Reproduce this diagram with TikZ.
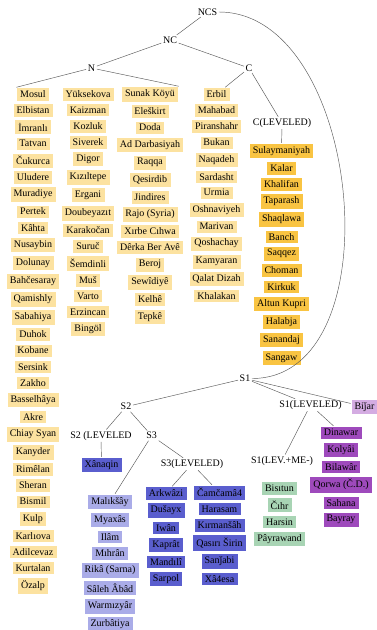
\documentclass[tikz,border=0pt]{standalone}
\usepackage{fontspec}
\setmainfont{Liberation Serif}
\usepackage{tikz}
\usetikzlibrary{positioning}

\definecolor{townpale}{RGB}{252,226,160}
\definecolor{townamber}{RGB}{249,196,66}
\definecolor{townblue}{RGB}{90,94,206}
\definecolor{townlav}{RGB}{170,172,232}
\definecolor{towngreen}{RGB}{168,212,180}
\definecolor{townpurple}{RGB}{158,74,188}
\definecolor{townlilac}{RGB}{212,172,226}

% one column of town boxes, stacked under its first box
\newcommand{\townlist}[5]{%
  \foreach \town [count=\i] in {#5}{
    \ifnum\i=1
      \node[town, fill=#2] (#1\i) at (#3,#4) {\town};
    \else
      \pgfmathtruncatemacro\prev{\i-1}
      \node[town, fill=#2, below=2.05pt of #1\prev] (#1\i) {\town};
    \fi
  }}

\begin{document}
\begin{tikzpicture}[x=1pt,y=1pt,
    font=\fontsize{10}{12}\selectfont,
    town/.style={draw=white, line width=0.6pt, inner xsep=3.6pt, inner ysep=3.2pt},
    group/.style={inner sep=1.5pt},
    link/.style={draw=black!65, line width=0.45pt}]
\useasboundingbox (0,0) rectangle (376,-630);

% upper tree
\node[group] (NCS) at (207.5,-12) {NCS};
\node[group] (NC) at (170,-40) {NC};
\node[group] (N) at (91.5,-68) {N};
\node[group] (C) at (249,-68) {C};
\node[group] (CLev) at (282,-123) {C(LEVELED)};

\townlist{mosul}{townpale}{33}{-94.3}{Mosul,Elbistan,İmranlı,Tatvan,Čukurca,Uludere,Muradiye,Pertek,Kâhta,Nusaybin,Dolunay,Bahčesaray,Qamishly,Sabahiya,Duhok,Kobane,Sersink,Zakho,Basselhâya,Akre,Chiay Syan,Kanyder,Rimêlan,Sheran,Bismil,Kulp,Karlıova,Adilcevaz,Kurtalan,Özalp}
\townlist{yuksek}{townpale}{88}{-94.3}{Yüksekova,Kaizman,Kozluk,Siverek,Digor,Kızıltepe,Ergani,Doubeyazıt,Karakočan,Suruč,Šemdinli,Muš,Varto,Erzincan,Bingöl}
\townlist{sunak}{townpale}{150}{-94.3}{Sunak Köyü,Eleškirt,Doda,Ad Darbasiyah,Raqqa,Qesirdib,Jindires,{Rajo (Syria)},Xırbe Cıhwa,Dêrka Ber Avê,Beroj,Sewîdiyê,Kelhê,Tepkê}
\townlist{erbil}{townpale}{216.5}{-94.3}{Erbil,Mahabad,Piranshahr,Bukan,Naqadeh,Sardasht,Urmia,Oshnaviyeh,Marivan,Qoshachay,Kamyaran,Qalat Dizah,Khalakan}
\townlist{sulay}{townamber}{281.5}{-151}{Sulaymaniyah,Kalar,Khalifan,Taparash,Shaqlawa,Banch,Saqqez,Choman,Kirkuk,Altun Kupri,Halabja,Sanandaj,Sangaw}

\draw[link] (NCS) -- (NC);
\draw[link] (NC) -- (N);
\draw[link] (NC) -- (C);
\draw[link] (N) -- (mosul1.north west);
\draw[link] (N) -- (sunak1.north east);
\draw[link] (C) -- (erbil1);
\draw[link] (C) -- (CLev);
\draw[link] (CLev) -- (sulay1);

% lower tree
\node[group] (S1) at (245,-378.5) {S1};
\node[group] (S2) at (126,-406.7) {S2};
\node[group] (S1Lev) at (310.5,-405) {S1(LEVELED)};
\node[town, fill=townlilac] (bijar) at (364.5,-406.7) {Biǰar};
\node[group] (S2Lev) at (101,-435.7) {S2 (LEVELED};
\node[group] (S3) at (151.7,-435.7) {S3};
\node[group] (S3Lev) at (192,-464) {S3(LEVELED)};
\node[group] (S1LevMe) at (282,-460.7) {S1(LEV.+ME-)};
\node[town, fill=townblue] (xanaqin) at (101.5,-465) {Xânaqin};

\townlist{malik}{townlav}{110}{-501.7}{Malıkšây,Myaxâs,Ilâm,Mıhrân,{Rikâ (Sarna)},Sâleh Âbâd,Warmızyâr,Zurbâtiya}
\townlist{arkw}{townblue}{166}{-493.3}{Arkwâzi,Dušayx,Iwân,Kaprât,Mandılî,Sarpol}
\townlist{camc}{townblue}{219.5}{-492.5}{Čamčamâ4,Harasam,Kırmanšâh,Qasırı Širin,Sanǰabi,Xâ4esa}
\townlist{bisit}{towngreen}{279.5}{-488.3}{Bisıtun,Čıhr,Harsin,Pâyrawand}
\townlist{dinaw}{townpurple}{341}{-432.7}{Dinawar,Kolyâi,Bilawâr,{Qorwa (Č.D.)},Sahana,Bayray}

\draw[link] (NCS.east) to[out=0,in=0] (S1.east);
\draw[link] (S1) -- (S2);
\draw[link] (S1) -- (S1Lev);
\draw[link] (S1) -- (bijar);
\draw[link] (S2) -- (S2Lev);
\draw[link] (S2) -- (S3);
\draw[link] (S2Lev) -- (xanaqin);
\draw[link] (S3) -- (malik1);
\draw[link] (S3) -- (S3Lev);
\draw[link] (S3Lev) -- (arkw1);
\draw[link] (S3Lev) -- (camc1);
\draw[link] (S1Lev) -- (S1LevMe);
\draw[link] (S1Lev) -- (dinaw1);
\end{tikzpicture}
\end{document}
